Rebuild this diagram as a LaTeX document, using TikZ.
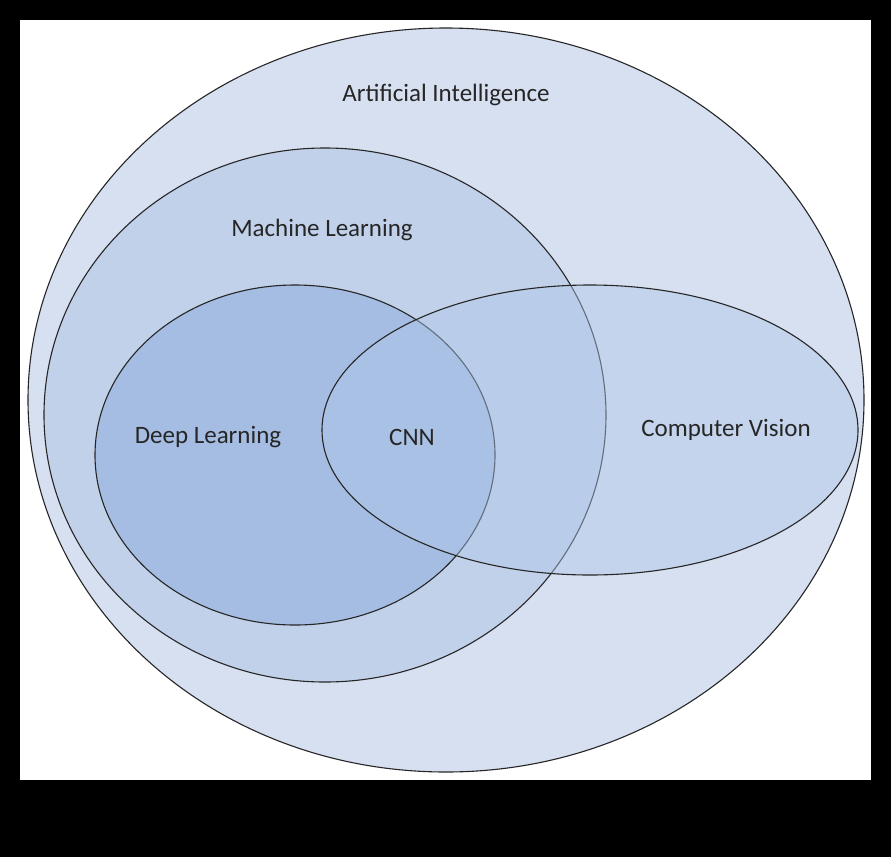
\documentclass[tikz,border=0pt]{standalone}
\usepackage{fontspec}
\setmainfont{Carlito}
\begin{document}
\begin{tikzpicture}[x=1pt,y=-1pt,
  set/.style={draw=black!85,line width=1.1pt},
  lab/.style={font=\fontsize{25}{28}\selectfont,text=black!85}]
\fill[black] (0,0) rectangle (891,857);
\fill[white] (20,20) rectangle (871,780);
\useasboundingbox (0,0) rectangle (891,857);
\path[set,fill={rgb,255:red,214;green,224;blue,241}] (446,400) ellipse [x radius=418,y radius=372];
\path[set,fill={rgb,255:red,194;green,209;blue,234}] (325,415) ellipse [x radius=281,y radius=267];
\path[set,fill={rgb,255:red,165;green,189;blue,226}] (295,455) ellipse [x radius=200,y radius=170];
\path[set,fill={rgb,255:red,175;green,198;blue,232},fill opacity=0.45] (590,430) ellipse [x radius=268,y radius=145];
\node[lab] (ai) at (446,95) {Artificial Intelligence};
\node[lab] (ml) at (322,230) {Machine Learning};
\node[lab] (dl) at (208,437) {Deep Learning};
\node[lab] (cnn) at (412,437) {CNN};
\node[lab] (cv) at (726,430) {Computer Vision};
\end{tikzpicture}
\end{document}
